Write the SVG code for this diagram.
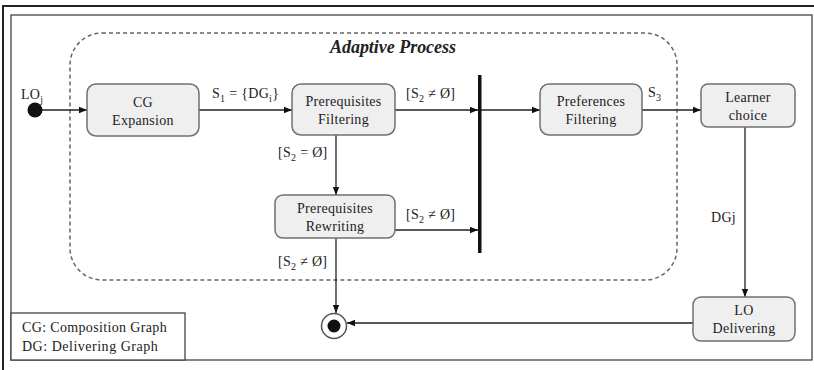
<svg xmlns="http://www.w3.org/2000/svg" width="814" height="370" viewBox="0 0 814 370">
<defs>
<style>
text{font-family:'Liberation Serif','DejaVu Serif',serif;font-size:14px;fill:#222;letter-spacing:0.3px}
text.title{font-size:18px;font-weight:bold;font-style:italic;letter-spacing:0}
.box{fill:#efefef;stroke:#707070;stroke-width:1.5}
.ln{stroke:#222;stroke-width:1.3;fill:none}
.c{text-anchor:middle}
</style>
<marker id="ah" viewBox="0 0 10 10" refX="10" refY="5" markerWidth="8" markerHeight="8" orient="auto" markerUnits="userSpaceOnUse">
<path d="M0,1 L10,5 L0,9 z" fill="#111"/>
</marker>
</defs>
<g font-family="'Liberation Serif', 'DejaVu Serif', serif">
<rect width="814" height="370" fill="#fff"/>
<path d="M3,370 V6 H814" fill="none" stroke="#222" stroke-width="2"/>
<rect x="11" y="15" width="801" height="345" fill="none" stroke="#444" stroke-width="1.3"/>
<g id="legend">
<rect x="11" y="313" width="174" height="47" fill="#fff" stroke="#444" stroke-width="1.3"/>
<text x="22" y="332" textLength="145" lengthAdjust="spacing">CG: Composition Graph</text>
<text x="22" y="351" textLength="136" lengthAdjust="spacing">DG: Delivering Graph</text>
</g>
<g id="adaptive-process">
<rect x="70" y="33" width="607" height="247" rx="32" ry="32" fill="none" stroke="#666" stroke-width="1.5" stroke-dasharray="4,3"/>
<text class="title" x="330" y="53" textLength="126" lengthAdjust="spacing">Adaptive Process</text>
</g>
<g id="connectors">
<path class="ln" d="M42,110 H87" marker-end="url(#ah)"/>
<path class="ln" d="M199,110 H292" marker-end="url(#ah)"/>
<path class="ln" d="M395,110 H478" marker-end="url(#ah)"/>
<path class="ln" d="M481,110 H540" marker-end="url(#ah)"/>
<path class="ln" d="M642,110 H701" marker-end="url(#ah)"/>
<path class="ln" d="M336,135 V195" marker-end="url(#ah)"/>
<path class="ln" d="M395,230 H478" marker-end="url(#ah)"/>
<path class="ln" d="M336,238 V313" marker-end="url(#ah)"/>
<path class="ln" d="M745,127 V297" marker-end="url(#ah)"/>
<path class="ln" d="M693,323 H347" marker-end="url(#ah)"/>
<text x="21" y="99">LO<tspan dy="4" font-size="10">j</tspan></text>
<text x="212" y="98">S<tspan dy="4" font-size="10">1</tspan><tspan dy="-4"> = {DG</tspan><tspan dy="4" font-size="10">i</tspan><tspan dy="-4">}</tspan></text>
<text x="406" y="98">[S<tspan dy="4" font-size="10">2</tspan><tspan dy="-4"> ≠ Ø]</tspan></text>
<text x="278" y="157">[S<tspan dy="4" font-size="10">2</tspan><tspan dy="-4"> = Ø]</tspan></text>
<text x="406" y="219">[S<tspan dy="4" font-size="10">2</tspan><tspan dy="-4"> ≠ Ø]</tspan></text>
<text x="278" y="266">[S<tspan dy="4" font-size="10">2</tspan><tspan dy="-4"> ≠ Ø]</tspan></text>
<text x="648" y="97">S<tspan dy="4" font-size="10">3</tspan></text>
<text x="711" y="222">DGj</text>
</g>
<g id="start"><circle cx="35" cy="110" r="7.5" fill="#111"/></g>
<g id="fork"><rect x="478" y="75" width="3.5" height="178" fill="#111"/></g>
<g id="cg-expansion">
<rect class="box" x="87" y="84" width="112" height="52" rx="9"/>
<text class="c" x="143" y="107">CG</text>
<text class="c" x="143" y="125">Expansion</text>
</g>
<g id="prerequisites-filtering">
<rect class="box" x="292" y="84" width="103" height="51" rx="9"/>
<text class="c" x="343.5" y="106">Prerequisites</text>
<text class="c" x="343.5" y="124">Filtering</text>
</g>
<g id="prerequisites-rewriting">
<rect class="box" x="275" y="195" width="120" height="43" rx="8"/>
<text class="c" x="335" y="213">Prerequisites</text>
<text class="c" x="335" y="231">Rewriting</text>
</g>
<g id="preferences-filtering">
<rect class="box" x="540" y="84" width="102" height="51" rx="9"/>
<text class="c" x="591" y="106">Preferences</text>
<text class="c" x="591" y="124">Filtering</text>
</g>
<g id="learner-choice">
<rect class="box" x="701" y="84" width="94" height="43" rx="7"/>
<text class="c" x="748" y="102">Learner</text>
<text class="c" x="748" y="120">choice</text>
</g>
<g id="lo-delivering">
<rect class="box" x="693" y="297" width="102" height="44" rx="8"/>
<text class="c" x="744" y="315">LO</text>
<text class="c" x="744" y="333">Delivering</text>
</g>
<g id="end">
<circle cx="334" cy="326" r="12.5" fill="#fff" stroke="#555" stroke-width="1.5"/>
<circle cx="334" cy="326" r="6.5" fill="#111"/>
</g>
</g>
</svg>
